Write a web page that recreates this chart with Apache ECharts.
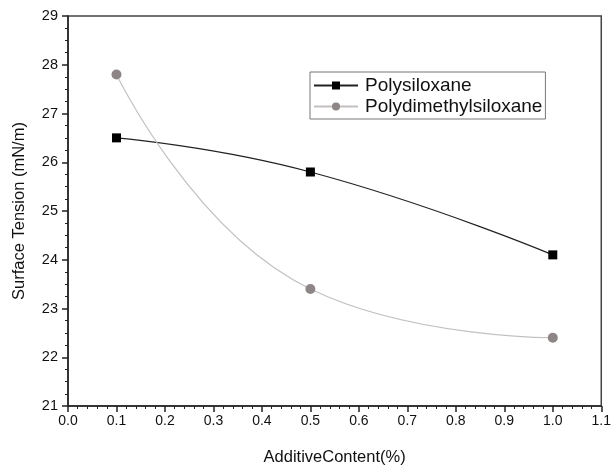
<!DOCTYPE html>
<html><head><meta charset="utf-8">
<script src="https://cdn.jsdelivr.net/npm/echarts@6/dist/echarts.min.js"></script>
<style>html,body{margin:0;padding:0;background:#fff}#c{width:614px;height:471px}</style>
</head><body><div id="c"></div>
<script>
const xValues = [0.1, 0.5, 1.0];
const polysiloxane = [26.5, 25.8, 24.1];
const polydimethylsiloxane = [27.8, 23.4, 22.4];
const seriesNames = ['Polysiloxane', 'Polydimethylsiloxane'];
const xAxisTitle = 'AdditiveContent(%)';
const yAxisTitle = 'Surface Tension (mN/m)';

const font = '"Liberation Sans", Arial, sans-serif';
const chart = echarts.init(document.getElementById('c'));
chart.setOption({
  animation: false,
  backgroundColor: '#fff',
  grid: { left: 68, right: 11, top: 16, bottom: 63, show: true, borderColor: '#444', borderWidth: 1.5, backgroundColor: 'transparent' },
  legend: {
    orient: 'vertical', left: 310, top: 72, padding: [4, 3, 3, 3],
    borderColor: '#777', borderWidth: 1, itemGap: 2, itemWidth: 44, itemHeight: 10,
    textStyle: { fontFamily: font, fontSize: 19, color: '#111', padding: [0, 0, 0, 2] },
    data: seriesNames
  },
  xAxis: {
    type: 'value', min: 0, max: 1.1, interval: 0.1,
    name: xAxisTitle, nameLocation: 'middle', nameGap: 43,
    nameTextStyle: { fontFamily: font, fontSize: 16.5, color: '#111' },
    axisLine: { lineStyle: { color: '#222', width: 1.5 } },
    axisTick: { show: true, length: 6, lineStyle: { color: '#222', width: 1.5 } },
    minorTick: { show: true, splitNumber: 5, length: 3, lineStyle: { color: '#222' } },
    axisLabel: { fontFamily: font, fontSize: 14, color: '#111', margin: 8, formatter: v => v.toFixed(1) },
    splitLine: { show: false }
  },
  yAxis: {
    type: 'value', min: 21, max: 29, interval: 1,
    name: yAxisTitle, nameLocation: 'middle', nameGap: 40,
    nameTextStyle: { fontFamily: font, fontSize: 16.5, color: '#111' },
    axisLine: { lineStyle: { color: '#222', width: 1.5 } },
    axisTick: { show: true, length: 6, lineStyle: { color: '#222', width: 1.5 } },
    minorTick: { show: true, splitNumber: 4, length: 3, lineStyle: { color: '#222' } },
    axisLabel: { fontFamily: font, fontSize: 14.5, color: '#111', margin: 10 },
    splitLine: { show: false }
  },
  series: [
    {
      name: seriesNames[0], type: 'line', smooth: true,
      data: xValues.map((x, i) => [x, polysiloxane[i]]),
      symbol: 'rect', symbolSize: 9,
      lineStyle: { color: '#222', width: 1.2 },
      itemStyle: { color: '#000' }
    },
    {
      name: seriesNames[1], type: 'line', smooth: true,
      data: xValues.map((x, i) => [x, polydimethylsiloxane[i]]),
      symbol: 'circle', symbolSize: 10,
      lineStyle: { color: '#c4c0c0', width: 1.2 },
      itemStyle: { color: '#8e8686' }
    }
  ]
});
</script></body></html>
